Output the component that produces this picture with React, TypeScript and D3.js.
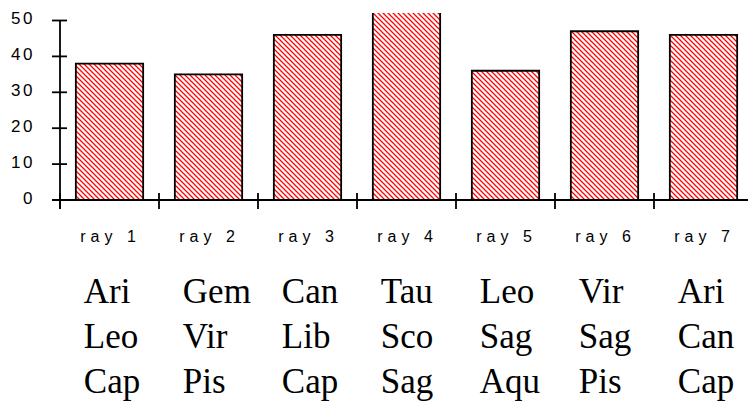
import React from 'react';
import * as d3 from 'd3';

const categories = ['ray 1', 'ray 2', 'ray 3', 'ray 4', 'ray 5', 'ray 6', 'ray 7'];
const values = [38, 35, 46, 55, 36, 47, 46];
const yTicks = [0, 10, 20, 30, 40, 50];
const signsRow1 = ['Ari', 'Gem', 'Can', 'Tau', 'Leo', 'Vir', 'Ari'];
const signsRow2 = ['Leo', 'Vir', 'Lib', 'Sco', 'Sag', 'Sag', 'Can'];
const signsRow3 = ['Cap', 'Pis', 'Cap', 'Sag', 'Aqu', 'Pis', 'Cap'];

const W = 748;
const H = 404;

export default function App() {
  const x = d3.scaleBand<string>().domain(categories).range([60, 753]).paddingInner(0.32).paddingOuter(0.16);
  const y = d3.scaleLinear().domain([0, 50]).range([200, 20.5]);
  const step = x.step();
  const bounds = categories.map((c) => (x(c) as number) - (step * 0.32) / 2);
  const rows = [signsRow1, signsRow2, signsRow3];
  const rowY = [303, 348, 393];
  return (
    <svg width={W} height={H} style={{ position: 'absolute', left: 0, top: 0, background: '#fff' }}>
      <defs>
        <pattern id="hatch" patternUnits="userSpaceOnUse" width={5} height={5}>
          <rect width={5} height={5} fill="#fff" />
          <path d="M-1,-1 L6,6 M-1,4 L1,6 M4,-1 L6,1" stroke="#ff0000" strokeWidth={1.25} />
        </pattern>
        <clipPath id="plotclip">
          <rect x={0} y={13} width={W} height={200} />
        </clipPath>
      </defs>
      <g clipPath="url(#plotclip)">
        {categories.map((c, i) => {
          const x0 = x(c) as number;
          const bw = x.bandwidth();
          const top = y(values[i]);
          return (
            <g key={c}>
              <rect x={x0} y={top} width={bw} height={200 - top} fill="url(#hatch)" />
              <path d={`M${x0},200 V${top} H${x0 + bw} V200`} fill="none" stroke="#000" strokeWidth={1.8} />
            </g>
          );
        })}
      </g>
      {/* y axis */}
      <line x1={60} x2={60} y1={y(50)} y2={209} stroke="#000" strokeWidth={1.8} />
      {yTicks.map((t) => (
        <g key={t}>
          <line x1={52} x2={67} y1={y(t)} y2={y(t)} stroke="#000" strokeWidth={1.8} />
          <text x={35} y={y(t) + 3.5} textAnchor="end" fontFamily="Liberation Sans, Arial, sans-serif" fontSize={17} letterSpacing={2.5} fill="#000">
            {t}
          </text>
        </g>
      ))}
      {/* x axis */}
      <line x1={52} x2={W} y1={200} y2={200} stroke="#000" strokeWidth={1.8} />
      {bounds.map((b, i) => (
        <line key={i} x1={b} x2={b} y1={193} y2={209} stroke="#000" strokeWidth={1.8} />
      ))}
      {categories.map((c) => (
        <text key={c} x={(x(c) as number) + x.bandwidth() / 2 + 1} y={242} textAnchor="middle" fontFamily="Liberation Sans, Arial, sans-serif" fontSize={16} letterSpacing={5} fill="#000">
          {c}
        </text>
      ))}
      {rows.map((row, r) =>
        row.map((s, i) => (
          <text key={`${r}-${i}`} x={(x(categories[i]) as number) + 8} y={rowY[r]} fontFamily="Liberation Serif, Times New Roman, serif" fontSize={35} fill="#000">
            {s}
          </text>
        ))
      )}
    </svg>
  );
}
